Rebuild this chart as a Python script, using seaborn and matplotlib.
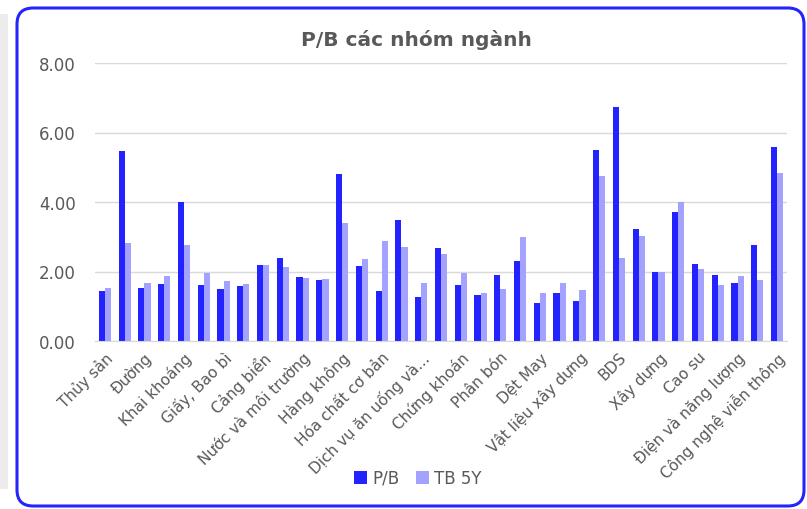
import numpy as np
import pandas as pd
import matplotlib
matplotlib.use("Agg")
import matplotlib.pyplot as plt
from matplotlib.patches import FancyBboxPatch, Rectangle
import seaborn as sns

# === Dữ liệu ===
# 35 nhóm ngành, chỉ nhãn ở vị trí lẻ được hiển thị trên trục
nhan_hien_thi = ["Thủy sản", "Đường", "Khai khoáng", "Giấy, Bao bì", "Cảng biển",
                 "Nước và môi trường", "Hàng không", "Hóa chất cơ bản",
                 "Dịch vụ ăn uống và...", "Chứng khoán", "Phân bón", "Dệt May",
                 "Vật liệu xây dựng", "BDS", "Xây dựng", "Cao su",
                 "Điện và năng lượng", "Công nghệ viễn thông"]

pb = [1.44, 5.48, 1.53, 1.65, 4.01, 1.60, 1.49, 1.59, 2.18, 2.40, 1.85, 1.75,
      4.80, 2.15, 1.45, 3.48, 1.26, 2.67, 1.62, 1.33, 1.89, 2.31, 1.10, 1.38,
      1.16, 5.51, 6.74, 3.23, 1.98, 3.71, 2.22, 1.89, 1.67, 2.75, 5.59]

tb_5y = [1.52, 2.83, 1.67, 1.86, 2.76, 1.95, 1.72, 1.63, 2.18, 2.14, 1.82, 1.78,
         3.41, 2.37, 2.89, 2.70, 1.67, 2.49, 1.96, 1.38, 1.50, 3.00, 1.38, 1.67,
         1.47, 4.76, 2.39, 3.01, 1.99, 3.99, 2.07, 1.61, 1.87, 1.76, 4.83]

tick_labels = []
for i in range(len(pb)):
    tick_labels.append(nhan_hien_thi[i // 2] if i % 2 == 0 else "")

n = len(pb)
df = pd.DataFrame({
    "nhom": list(range(n)) * 2,
    "gia_tri": pb + tb_5y,
    "chi_so": ["P/B"] * n + ["TB 5Y"] * n,
})

# === Vẽ biểu đồ ===
sns.set_style("white")
plt.rcParams["font.family"] = ["DejaVu Sans"]
TEXT = "#595959"

fig = plt.figure(figsize=(8.07, 5.10), dpi=100)
W, H = 807, 510

# khung viền xanh bo góc + bóng xám bên trái
fig.patches.append(Rectangle((0, 20 / H), 8 / W, 475 / H, transform=fig.transFigure,
                             facecolor="#ececec", edgecolor="none", zorder=0))
fig.patches.append(FancyBboxPatch((17 / W, 3 / H), 787 / W, 498 / H,
                                  boxstyle="round,pad=0,rounding_size=0.02",
                                  transform=fig.transFigure, facecolor="white",
                                  edgecolor="#2424ff", linewidth=2.2, zorder=1,
                                  mutation_aspect=W / H))

ax = fig.add_axes([95 / W, 1 - 342 / H, 692 / W, 278 / H])
ax.set_zorder(2)
ax.patch.set_alpha(0)

sns.barplot(data=df, x="nhom", y="gia_tri", hue="chi_so",
            palette=["#2323ff", "#a3a3ff"], width=0.62, gap=0,
            saturation=1, linewidth=0, ax=ax, legend=True)

ax.set_ylim(0, 8)
ax.set_yticks([0, 2, 4, 6, 8])
ax.set_yticklabels([f"{v:.2f}" for v in [0, 2, 4, 6, 8]], fontsize=12, color=TEXT)
ax.set_xlim(-0.5, n - 0.5)
ax.set_xticks(range(n))
ax.set_xticklabels(tick_labels, rotation=45, ha="right", rotation_mode="anchor",
                   fontsize=11, color=TEXT)
ax.tick_params(axis="y", length=0, pad=14)
ax.tick_params(axis="x", length=0, pad=6)
ax.set_xlabel("")
ax.set_ylabel("")
ax.yaxis.grid(True, color="#d9d9d9", linewidth=1)
ax.set_axisbelow(True)
for s in ["top", "right", "left"]:
    ax.spines[s].set_visible(False)
ax.spines["bottom"].set_color("#d9d9d9")

fig.text(416 / W, 1 - 40 / H, "P/B các nhóm ngành", ha="center", va="center",
         fontsize=14.5, fontweight="bold", color=TEXT)

handles, labels = ax.get_legend_handles_labels()
ax.legend(handles, labels, loc="center", bbox_to_anchor=(418 / W, 1 - 479 / H),
          bbox_transform=fig.transFigure, ncol=2, frameon=False, fontsize=12,
          handlelength=0.8, handleheight=0.8, handletextpad=0.3,
          columnspacing=1.0, labelcolor=TEXT)

plt.savefig("out.png", dpi=100)
